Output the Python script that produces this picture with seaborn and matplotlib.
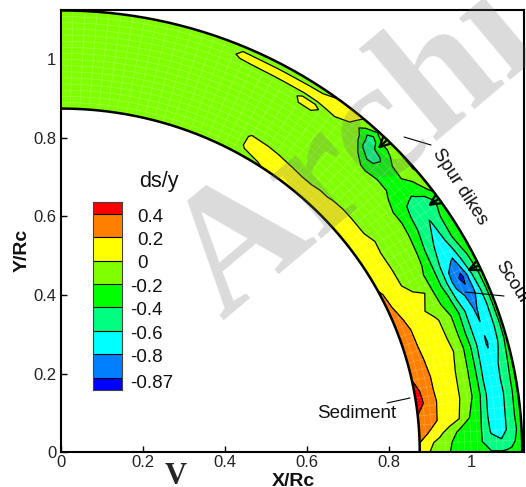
import matplotlib
matplotlib.use("Agg")
import matplotlib.pyplot as plt
import numpy as np
import seaborn as sns

# channel geometry, normalised by centre line radius
r_inner = 0.875
r_outer = 1.125

# fraction across the channel (0 = inner bank, 1 = outer bank)
across = [0, 0.1, 0.2, 0.3, 0.4, 0.5, 0.6, 0.7, 0.8, 0.85, 0.9, 1]

# angle of each section in degrees, 0 at the channel exit
angles = [0, 1.5, 3, 5, 8, 10, 12, 15, 17, 20, 22, 24.5, 27, 30, 33, 35, 37,
          40, 42, 44, 45, 46.5, 48, 50, 52, 55, 57, 60, 61.5, 65, 66.5, 68.5, 72, 75, 80, 85, 90]

# ds/y, section by section
sec_000 = [.10, .00, -.10, -.20, -.28, -.33, -.37, -.38, -.38, -.37, -.36, -.30]
sec_015 = [.20, .03, -.05, -.18, -.30, -.35, -.38, -.55, -.58, -.52, -.45, -.30]
sec_030 = [.30, .18, .04, -.08, -.26, -.30, -.38, -.62, -.68, -.60, -.50, -.30]
sec_050 = [.36, .30, .18, .09, .00, -.20, -.36, -.66, -.72, -.60, -.48, -.28]
sec_080 = [.47, .37, .20, .12, .04, -.10, -.30, -.63, -.72, -.62, -.50, -.28]
sec_100 = [.47, .34, .18, .10, .04, -.10, -.30, -.66, -.72, -.60, -.50, -.28]
sec_120 = [.40, .32, .18, .10, .04, -.08, -.30, -.64, -.74, -.62, -.52, -.30]
sec_150 = [.36, .25, .17, .12, .07, -.04, -.28, -.60, -.82, -.72, -.63, -.32]
sec_170 = [.35, .24, .15, .10, .04, -.06, -.32, -.62, -.78, -.72, -.66, -.32]
sec_200 = [.30, .22, .16, .10, .03, -.10, -.30, -.62, -.84, -.72, -.68, -.30]
sec_220 = [.27, .20, .08, .03, -.07, -.20, -.38, -.75, -.85, -.82, -.66, -.30]
sec_245 = [.25, .15, .07, .03, .00, -.25, -.45, -.84, -.885, -.82, -.60, -.30]
sec_270 = [.24, .09, .02, -.05, -.13, -.23, -.44, -.76, -.82, -.66, -.50, -.28]
sec_300 = [.12, .06, .01, -.03, -.08, -.16, -.40, -.60, -.66, -.53, -.40, -.25]
sec_330 = [.10, .05, .01, -.04, -.08, -.13, -.28, -.52, -.61, -.52, -.42, -.25]
sec_350 = [.10, .05, .02, -.03, -.08, -.12, -.25, -.47, -.55, -.55, -.55, -.30]
sec_370 = [.10, .05, .00, -.03, -.07, -.12, -.26, -.38, -.42, -.38, -.32, -.12]
sec_400 = [.10, .05, .00, -.03, -.06, -.10, -.16, -.25, -.24, -.18, -.12, .02]
sec_420 = [.10, .05, .00, -.01, -.05, -.10, -.15, -.25, -.28, -.20, -.12, .01]
sec_440 = [.10, .04, -.005, -.01, -.04, -.08, -.14, -.38, -.44, -.35, -.27, -.02]
sec_450 = [.10, .03, -.01, -.01, -.03, -.06, -.10, -.38, -.48, -.38, -.30, .00]
sec_465 = [.10, .03, -.01, -.01, -.02, -.04, -.08, -.18, -.46, -.48, -.50, -.15]
sec_480 = [.12, .03, -.02, -.02, -.02, -.03, -.05, -.06, -.12, -.20, -.30, -.05]
sec_500 = [.14, .03, -.02, -.02, -.02, -.02, -.03, -.04, -.06, -.03, .01, .05]
sec_520 = [.08, .03, -.01, -.03, -.03, -.03, -.03, -.03, -.03, .01, .03, .02]
sec_550 = [.01, .03, .00, -.03, -.03, -.03, -.03, -.01, .01, -.01, .04, -.03]
sec_570 = [-.01, .03, .005, -.03, -.03, -.03, -.03, -.01, .01, -.01, .03, -.03]
sec_600 = [-.03, .01, .01, -.03, -.04, -.04, -.04, -.04, -.04, -.005, .03, -.04]
sec_615 = [-.03, -.03, -.03, -.04, -.04, -.04, -.04, -.04, -.04, -.005, .03, -.04]
sec_650 = [-.04, -.04, -.04, -.04, -.04, -.04, -.04, -.04, -.04, -.01, .025, -.03]
sec_665 = [-.04, -.04, -.04, -.04, -.04, -.04, -.04, -.04, -.04, -.02, .02, -.02]
sec_685 = [-.05, -.05, -.05, -.05, -.05, -.05, -.05, -.05, -.05, -.05, -.04, -.04]
sec_720 = [-.05, -.05, -.05, -.05, -.05, -.05, -.05, -.05, -.05, -.05, -.05, -.05]
sec_750 = [-.05, -.05, -.05, -.05, -.05, -.05, -.05, -.05, -.05, -.05, -.05, -.05]
sec_800 = [-.05, -.05, -.05, -.05, -.05, -.05, -.05, -.05, -.05, -.05, -.05, -.05]
sec_850 = [-.06, -.06, -.06, -.06, -.06, -.06, -.06, -.06, -.06, -.06, -.06, -.06]
sec_900 = [-.06, -.06, -.06, -.06, -.06, -.06, -.06, -.06, -.06, -.06, -.06, -.06]

levels = [-0.87, -0.8, -0.6, -0.4, -0.2, 0, 0.2, 0.4]
band_colors = ["#0000ff", "#0080ff", "#00ffff", "#00ff80", "#00ff00",
               "#80ff00", "#ffff00", "#ff8000", "#ff0000"]
bar_labels = ["0.4", "0.2", "0", "-0.2", "-0.4", "-0.6", "-0.8", "-0.87"]
bar_heights = [0.5, 1, 1, 1, 1, 1, 1, 1, 0.5]  # top to bottom

dike_angles = [45, 35, 25]
dike_tip = 0.87

ticks = [0, 0.2, 0.4, 0.6, 0.8, 1]
tick_labels = ["0", "0.2", "0.4", "0.6", "0.8", "1"]

sns.set_theme(style="ticks")
plt.rcParams["font.family"] = ["Liberation Sans", "DejaVu Sans"]

W, H = 526, 487
fig = plt.figure(figsize=(W / 100, H / 100), dpi=100)


def fx(px):
    return px / W


def fy(py):
    return 1 - py / H


ax = fig.add_axes([fx(61), fy(452), (524 - 61) / W, (452 - 10) / H])

sections = [sec_000, sec_015, sec_030, sec_050, sec_080, sec_100, sec_120, sec_150, sec_170,
            sec_200, sec_220, sec_245, sec_270, sec_300, sec_330, sec_350, sec_370, sec_400,
            sec_420, sec_440, sec_450, sec_465, sec_480, sec_500, sec_520, sec_550, sec_570,
            sec_600, sec_615, sec_650, sec_665, sec_685, sec_720, sec_750, sec_800, sec_850, sec_900]
z = np.array(sections)
th = np.radians(angles)
rr = r_inner + (r_outer - r_inner) * np.array(across)
T, R = np.meshgrid(th, rr, indexing="ij")
X, Y = R * np.cos(T), R * np.sin(T)

palette = sns.color_palette(band_colors)
ax.contourf(X, Y, z, levels=levels, colors=palette, extend="both")

# faint computational mesh
sweep = np.radians(np.linspace(0, 90, 181))
for f in np.linspace(0, 1, 17):
    r = r_inner + (r_outer - r_inner) * f
    ax.plot(r * np.cos(sweep), r * np.sin(sweep), color="white", lw=0.4, alpha=0.3)
for a in np.radians(np.arange(0, 90, 1.5)):
    ax.plot([r_inner * np.cos(a), r_outer * np.cos(a)], [r_inner * np.sin(a), r_outer * np.sin(a)],
            color="white", lw=0.4, alpha=0.3)

ax.contour(X, Y, z, levels=levels, colors="black", linewidths=0.9, linestyles="solid")

# channel banks
ax.plot(r_inner * np.cos(sweep), r_inner * np.sin(sweep), color="black", lw=1.8)
ax.plot(r_outer * np.cos(sweep), r_outer * np.sin(sweep), color="black", lw=1.8)

# spur dikes with the arrow heads at their tips
for a in dike_angles:
    a_r = np.radians(a)
    r_tip = r_inner + (r_outer - r_inner) * dike_tip
    ax.annotate("", xy=(r_tip * np.cos(a_r), r_tip * np.sin(a_r)),
                xytext=(r_outer * np.cos(a_r), r_outer * np.sin(a_r)),
                arrowprops=dict(arrowstyle="->", color="black", lw=1.6, mutation_scale=17,
                                shrinkA=0, shrinkB=0))

ax.set_xlim(0, (524 - 61) / 410)
ax.set_ylim(0, (452 - 10) / 392.5)
ax.set_xticks(ticks)
ax.set_xticklabels(tick_labels)
ax.set_yticks(ticks)
ax.set_yticklabels(tick_labels)
ax.tick_params(direction="in", length=4.3, width=1, labelsize=12, color="black", labelcolor="#222222")
ax.tick_params(axis="x", pad=2)
ax.tick_params(axis="y", pad=3.5)
for s in ax.spines.values():
    s.set_linewidth(1.5)
    s.set_color("black")

# contour key
cax = fig.add_axes([fx(93), fy(389.5), 29 / W, 187.5 / H])
edges = np.concatenate([[0], np.cumsum(bar_heights)])
cax.pcolormesh([0, 1], edges, np.arange(9)[::-1].reshape(-1, 1), cmap=matplotlib.colors.ListedColormap(palette),
               edgecolors="none")
cax.hlines(edges, 0, 1, color="black", lw=0.8)
cax.set_xlim(0, 1)
cax.set_ylim(edges[-1], 0)
cax.set_xticks([])
cax.set_yticks([])
for s in cax.spines.values():
    s.set_linewidth(0.8)
    s.set_color("#444444")

for i, lab in enumerate(bar_labels):
    y_px = 214 + i * 23.45
    if lab == "-0.87":
        y_px = 381
    x_px = 130.5 if lab.startswith("-") else 137
    fig.text(fx(x_px), fy(y_px + 3), lab, fontsize=13.5, va="center", ha="left", color="#111111")

fig.text(fx(139), fy(182), "ds/y", fontsize=15.5, va="center", ha="left", color="#111111")
fig.text(fx(22), fy(250), "Y/Rc", fontsize=14, weight="bold", rotation=90, va="center", ha="center", color="#111111")
fig.text(fx(293), fy(482), "X/Rc", fontsize=14, weight="bold", va="center", ha="center", color="#111111")
fig.text(fx(176), fy(477), "V", fontsize=22, weight="bold", family="Liberation Serif", va="center", ha="center")

fig.text(fx(357), fy(414), "Sediment", fontsize=13.5, va="center", ha="center", color="#111111")
fig.text(fx(460), fy(187), "Spur dikes", fontsize=13.2, rotation=-57, rotation_mode="anchor",
         va="center", ha="center", color="#111111")
fig.text(fx(512), fy(283), "Scour", fontsize=13.2, rotation=-57, rotation_mode="anchor",
         va="center", ha="center", color="#111111")

# leader lines, in pixels of the figure
for x0, y0, x1, y1 in [(387, 403, 410, 398), (465, 292, 504, 296), (404, 137, 431, 145)]:
    fig.add_artist(plt.Line2D([fx(x0), fx(x1)], [fy(y0), fy(y1)], color="black", lw=0.8))

# watermark over everything
fig.text(fx(222), fy(320), "Archi", fontsize=125, family="Liberation Serif", weight="bold",
         rotation=40, rotation_mode="anchor", ha="left", va="baseline", color="#707070", alpha=0.25, zorder=10)

fig.savefig("out.png", dpi=100)
